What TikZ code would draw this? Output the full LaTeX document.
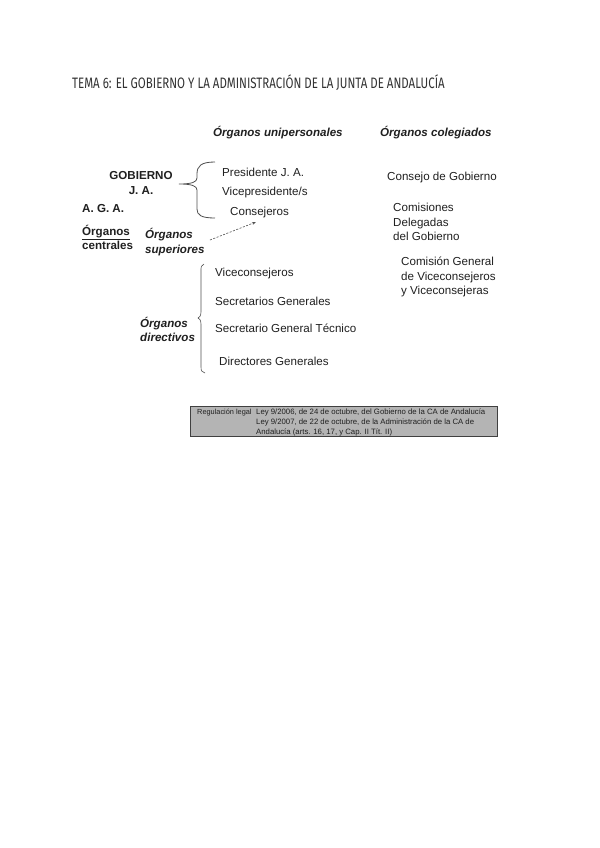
\documentclass[tikz,border=0pt]{standalone}
\usepackage{fontspec}
\setmainfont{Liberation Sans}
\newfontfamily\titlefont{Fira Sans}
\usetikzlibrary{arrows.meta}
\definecolor{ink}{HTML}{202020}
\definecolor{brc}{HTML}{505050}
\definecolor{boxfill}{HTML}{B4B4B4}
\begin{document}
\begin{tikzpicture}[x=0.992pt,y=-0.992pt,
  txt/.style={inner sep=0pt, anchor=west, text=ink, font=\fontsize{11.5}{14.5}\selectfont, align=left},
  bold/.style={txt, font=\fontsize{11.5}{14.5}\selectfont\bfseries},
  bital/.style={txt, font=\fontsize{11.5}{14.5}\selectfont\bfseries\itshape},
  small/.style={inner sep=0pt, anchor=west, text=ink, font=\fontsize{7.3}{9.5}\selectfont, align=left},
  bracestyle/.style={draw=brc, line width=0.8pt},
  arrowstyle/.style={draw=brc, line width=0.6pt, dash pattern=on 2pt off 1.5pt, -{Stealth[length=4pt,width=3pt]}}]
\useasboundingbox (0,0) rectangle (600,848);
\fill[white] (0,0) rectangle (600,848);

% title
\node[inner sep=0pt, anchor=west, text=black!80] (title) at (72,83)
  {\scalebox{0.76}[1]{\titlefont\fontsize{15}{18}\selectfont TEMA 6: EL GOBIERNO Y LA ADMINISTRACIÓN DE LA JUNTA DE ANDALUCÍA}};

% column heads
\node[bital] (uni) at (213,133) {Órganos unipersonales};
\node[bital] (col) at (380,133) {Órganos colegiados};

% left labels
\node[bold, align=center, anchor=center] (gob) at (141,183) {GOBIERNO\\J. A.};
\node[bold] (aga) at (82,209) {A. G. A.};
\node[bold] (cen) at (82,237.5) {\underline{Órganos}\\centrales};
\node[bital] (sup) at (145,242) {Órganos\\superiores};
\node[bital] (dir) at (140,329.5) {Órganos\\directivos};

% unipersonales
\node[txt] (pres) at (222,172) {Presidente J. A.};
\node[txt] (vice) at (222,192) {Vicepresidente/s};
\node[txt] (cons) at (230,212) {Consejeros};

\node[txt] (vcons) at (215,273) {Viceconsejeros};
\node[txt] (secg) at (215,301) {Secretarios Generales};
\node[txt] (sgt) at (215,328) {Secretario General Técnico};
\node[txt] (dirg) at (219,361) {Directores Generales};

% colegiados
\node[txt] (cgob) at (387,177) {Consejo de Gobierno};
\node[txt] (cdel) at (393,222) {Comisiones\\Delegadas\\del Gobierno};
\node[txt] (cgen) at (401,277) {Comisión General\\de Viceconsejeros\\y Viceconsejeras};

% brace 1
\draw[bracestyle] (215,162) .. controls (201,162) and (197,166) .. (197,174) -- (197,178)
  .. controls (197,182) and (192,184) .. (179,184)
  .. controls (192,184) and (197,186) .. (197,190) -- (197,209)
  .. controls (197,215) and (201,218) .. (215,218);
% brace 2
\draw[draw=brc, line width=0.6pt] (204,264) .. controls (201,265) and (201,267) .. (201,271) -- (201,312)
  .. controls (201,316) and (199,318) .. (198,318)
  .. controls (199,318) and (201,320) .. (201,324) -- (201,367)
  .. controls (201,371) and (202,372) .. (205,373);

% arrow
\coordinate (a1) at (210,240);
\coordinate (a2) at (256,222);
\draw[arrowstyle] (a1) -- (a2);

% legal box
\node[draw=black!75, fill=boxfill, line width=0.8pt, minimum width=307*0.992pt, minimum height=30*0.992pt, inner sep=0pt, anchor=north west] (box) at (190,406) {};
\node[small] (reg) at (197,413) {Regulación legal};
\node[small, font=\fontsize{7.7}{9.5}\selectfont] (leyes) at (256,422.5) {Ley 9/2006, de 24 de octubre, del Gobierno de la CA de Andalucía\\Ley 9/2007, de 22 de octubre, de la Administración de la CA de\\Andalucía (arts. 16, 17, y Cap. II Tít. II)};
\end{tikzpicture}
\end{document}
